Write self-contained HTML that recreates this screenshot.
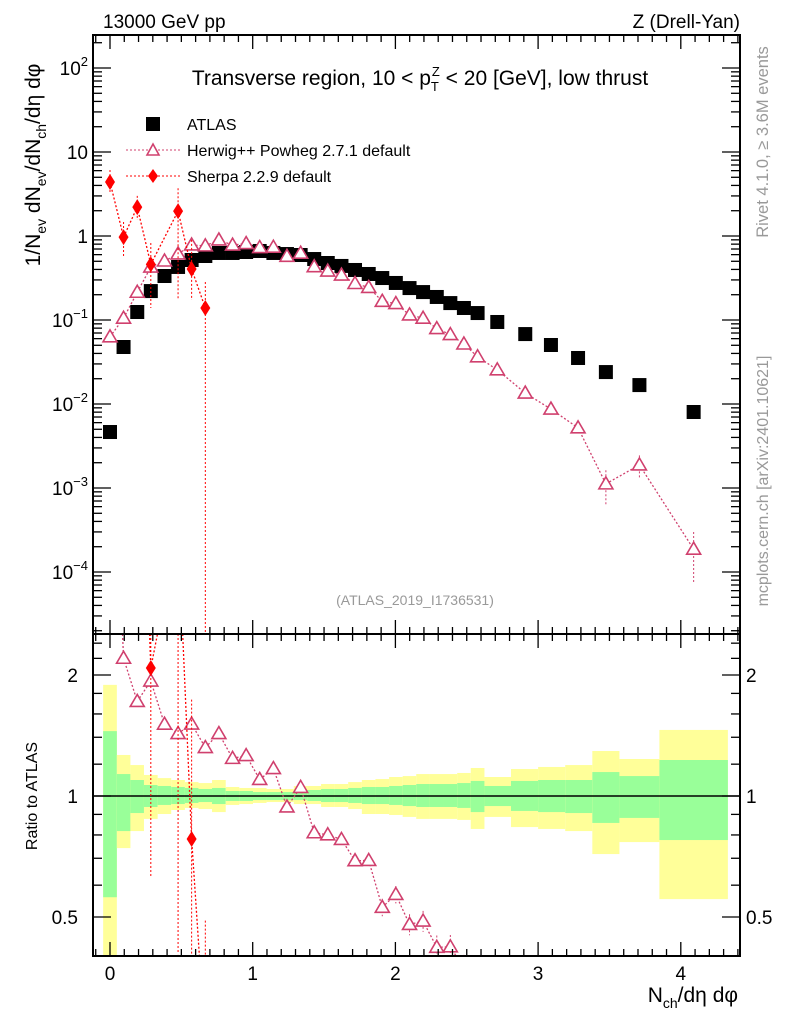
<!DOCTYPE html>
<html><head><meta charset="utf-8">
<style>
html,body{margin:0;padding:0;background:#fff;overflow:hidden;width:786px;height:1024px;}
svg{display:block;font-family:"Liberation Sans",sans-serif;}
</style></head>
<body>
<svg id="chart" width="786" height="1024" viewBox="0 0 786 1024" xmlns="http://www.w3.org/2000/svg">
<defs>
<clipPath id="clipMain"><rect x="93" y="35" width="647" height="599"/></clipPath>
<clipPath id="clipRatio"><rect x="93" y="634" width="647" height="322"/></clipPath>
</defs>
<text x="103" y="28" font-size="19">13000 GeV pp</text>
<text x="740" y="28" font-size="19" text-anchor="end">Z (Drell-Yan)</text>
<text transform="translate(40,165) rotate(-90)" font-size="21" text-anchor="middle">1/N<tspan font-size="14" dy="6">ev</tspan><tspan dy="-6"> dN</tspan><tspan font-size="14" dy="6">ev</tspan><tspan dy="-6">/dN</tspan><tspan font-size="14" dy="6">ch</tspan><tspan dy="-6">/dη dφ</tspan></text>
<text transform="translate(37,796) rotate(-90)" font-size="16" text-anchor="middle">Ratio to ATLAS</text>
<text x="738" y="1002" font-size="21" text-anchor="end">N<tspan font-size="14" dy="6">ch</tspan><tspan dy="-6">/dη dφ</tspan></text>
<text transform="translate(768,142) rotate(-90)" font-size="16.5" fill="#999" text-anchor="middle">Rivet 4.1.0, ≥ 3.6M events</text>
<text transform="translate(768,481) rotate(-90)" font-size="16" fill="#999" text-anchor="middle">mcplots.cern.ch [arXiv:2401.10621]</text>
<text x="415" y="605" font-size="14" fill="#999" text-anchor="middle">(ATLAS_2019_I1736531)</text>
<text x="420" y="85" font-size="21" text-anchor="middle">Transverse region, 10 &lt; p<tspan font-size="13" dy="6">T</tspan><tspan font-size="13" dx="-7" dy="-15">Z</tspan><tspan dy="9"> &lt; 20 [GeV], low thrust</tspan></text>
<g id="ratioBands" clip-path="url(#clipRatio)"></g>
<g id="marks"></g>
<g id="axes"></g>
<g id="legend">
<rect x="146" y="117" width="14" height="14" fill="#000"/>
<text x="187" y="130" font-size="16">ATLAS</text>
<line x1="126" y1="150" x2="182" y2="150" stroke="#d0406e" stroke-dasharray="2,2"/>
<path d="M153,144 L159,155 L147,155 Z" fill="#fff" stroke="#d0406e" stroke-width="1.6"/>
<text x="187" y="156" font-size="16">Herwig++ Powheg 2.7.1 default</text>
<line x1="126" y1="176" x2="182" y2="176" stroke="#f00" stroke-dasharray="2,2"/>
<path d="M153,169 L158,176 L153,183 L148,176 Z" fill="#f00"/>
<text x="187" y="182" font-size="16">Sherpa 2.2.9 default</text>
</g>
</svg>
<script>
const binEdges=[-0.048,0.048,0.143,0.238,0.334,0.429,0.525,0.62,0.715,0.811,0.906,1.002,1.097,1.192,1.288,1.383,1.479,1.574,1.669,1.765,1.86,1.956,2.051,2.146,2.242,2.337,2.433,2.528,2.624,2.81,3.0,3.19,3.38,3.57,3.85,4.33];
const xCenters=[0,0.095,0.191,0.286,0.382,0.477,0.572,0.668,0.763,0.859,0.954,1.049,1.145,1.24,1.336,1.431,1.526,1.622,1.717,1.813,1.908,2.003,2.099,2.194,2.29,2.385,2.48,2.576,2.714,2.91,3.09,3.28,3.475,3.71,4.09];
const atlasValues=[0.00464,0.0477,0.1245,0.221,0.334,0.428,0.518,0.578,0.628,0.628,0.645,0.663,0.628,0.61,0.594,0.532,0.477,0.44,0.394,0.353,0.316,0.276,0.24,0.215,0.188,0.159,0.139,0.121,0.0947,0.068,0.0504,0.0353,0.024,0.0168,0.00803];
const herwigValues=[0.063,0.105,0.214,0.427,0.504,0.612,0.782,0.763,0.898,0.779,0.813,0.729,0.735,0.573,0.624,0.431,0.382,0.343,0.272,0.244,0.167,0.157,0.115,0.105,0.079,0.067,0.0518,0.0365,0.0255,0.0135,0.0087,0.0052,0.00112,0.00188,0.000187];
const herwigRelErr=[0.03,0.03,0.03,0.03,0.03,0.03,0.03,0.03,0.03,0.03,0.03,0.03,0.03,0.03,0.03,0.03,0.03,0.03,0.03,0.03,0.05,0.05,0.06,0.06,0.07,0.07,0.08,0.08,0.1,0.1,0.12,0.15,0.45,0.3,0.6];
const sherpaX=[0,0.095,0.191,0.286,0.477,0.572,0.668];
const sherpaValues=[4.4,0.97,2.21,0.46,1.98,0.405,0.139];
const sherpaHigh=[6.1,1.47,3.0,0.825,3.7,0.9,0.283];
const sherpaLow=[3.25,0.547,1.55,0.139,0.173,0.173,0.000001];
const sherpaAtlasIdx=[0,1,2,3,5,6,7];
const bandYellowUp=[1.89,1.265,1.194,1.128,1.108,1.096,1.083,1.077,1.096,1.053,1.047,1.047,1.041,1.041,1.059,1.059,1.071,1.071,1.083,1.096,1.102,1.115,1.121,1.134,1.134,1.134,1.141,1.174,1.115,1.167,1.181,1.194,1.294,1.236,1.46];
const bandYellowLo=[0.3,0.742,0.818,0.877,0.902,0.923,0.934,0.928,0.912,0.950,0.955,0.961,0.966,0.966,0.955,0.955,0.939,0.939,0.928,0.902,0.902,0.897,0.887,0.877,0.877,0.877,0.872,0.828,0.887,0.837,0.828,0.818,0.717,0.768,0.554];
const bandGreenUp=[1.45,1.134,1.096,1.065,1.059,1.053,1.047,1.041,1.047,1.029,1.029,1.023,1.023,1.023,1.035,1.035,1.041,1.041,1.047,1.053,1.053,1.059,1.065,1.071,1.071,1.071,1.077,1.090,1.059,1.090,1.096,1.096,1.147,1.121,1.229];
const bandGreenLo=[0.56,0.818,0.907,0.939,0.95,0.955,0.961,0.966,0.955,0.972,0.972,0.977,0.977,0.977,0.977,0.972,0.966,0.966,0.961,0.955,0.955,0.950,0.944,0.939,0.939,0.939,0.934,0.912,0.944,0.918,0.912,0.907,0.857,0.882,0.777];
const xTicks=[0,1,2,3,4];
const mainTickExps=[-4,-3,-2,-1,0,1,2];
const mainTickLabels=["10","10","10","10","1","10","10"];
const mainTickSups=["\u22124","\u22123","\u22122","\u22121","","","2"];
const ratioTicks=[0.5,1,2];
const ratioTickLabels=["0.5","1","2"];

const NS="http://www.w3.org/2000/svg";
const L=93,R=740,MT=35,MB=634,RT=634,RB=956;
function cl(v,a,b){return Math.max(a,Math.min(b,v));}
function sx(x){return 110+x*142.7;}
function syU(v){return 236-Math.log10(v)*84;}
function srU(r){return 796-Math.log2(r)*121;}
function sy(v){return cl(syU(v),MT-20,MB+20);}
function sr(r){return cl(srU(r),RT-20,RB+20);}
function srb(r){return cl(srU(r),RT,RB);}
function mk(tag,attrs,parent){const e=document.createElementNS(NS,tag);for(const k in attrs)e.setAttribute(k,attrs[k]);parent.appendChild(e);return e;}
// clip polyline segments to [top,bottom] in y, returning path d
function clipPath(xs,ys,top,bot){
  let d='';
  for(let i=0;i<xs.length-1;i++){
    let x1=xs[i],y1=ys[i],x2=xs[i+1],y2=ys[i+1];
    if((y1<top&&y2<top)||(y1>bot&&y2>bot)) continue;
    const f=(yy)=>x1+(x2-x1)*(yy-y1)/(y2-y1);
    let ax=x1,ay=y1,bx=x2,by=y2;
    if(ay<top){ax=f(top);ay=top;} else if(ay>bot){ax=f(bot);ay=bot;}
    if(by<top){bx=f(top);by=top;} else if(by>bot){bx=f(bot);by=bot;}
    d+=`M${ax.toFixed(2)},${ay.toFixed(2)}L${bx.toFixed(2)},${by.toFixed(2)}`;
  }
  return d;
}
const bands=document.getElementById('ratioBands');
const marks=document.getElementById('marks');
const axes=document.getElementById('axes');

for(let i=0;i<xCenters.length;i++){
  const x0=sx(binEdges[i]),x1=sx(binEdges[i+1]);
  const y=mk('rect',{x:x0,y:srb(bandYellowUp[i]),width:x1-x0,height:srb(bandYellowLo[i])-srb(bandYellowUp[i]),fill:'#ffff99'},bands);
  
  
  const g=mk('rect',{x:x0,y:srb(bandGreenUp[i]),width:x1-x0,height:srb(bandGreenLo[i])-srb(bandGreenUp[i]),fill:'#99ff99'},bands);
  
  
}
const one=mk('line',{x1:L,x2:R,y1:sr(1),y2:sr(1),stroke:'#000','stroke-width':1.5},bands);



const gMain=mk('g',{'clip-path':'url(#clipMain)'},marks);


const gRat=mk('g',{'clip-path':'url(#clipRatio)'},marks);



const HC='#d0406e';
function tri(parent,cx,cy,name){
  const p=mk('path',{d:`M${cx},${cy-7} L${cx+7},${cy+5} L${cx-7},${cy+5} Z`,fill:'#fff',stroke:HC,'stroke-width':1.6},parent);
  
  
}
function dia(parent,cx,cy,name){
  const p=mk('path',{d:`M${cx},${cy-8} L${cx+5},${cy} L${cx},${cy+8} L${cx-5},${cy} Z`,fill:'#f00'},parent);
  
  
}
const hl=mk('path',{d:clipPath(xCenters.map(sx),herwigValues.map(syU),MT,MB),fill:'none',stroke:HC,'stroke-dasharray':'2,2','stroke-width':1.3},gMain);


xCenters.forEach((x,i)=>{
  const v=herwigValues[i],e=herwigRelErr[i];
  const eb=mk('line',{x1:sx(x),x2:sx(x),y1:sy(v*(1+e)),y2:sy(Math.max(v*(1-e),1e-7)),stroke:HC,'stroke-dasharray':'2,2'},gMain);
  
  
});
xCenters.forEach((x,i)=>{
  const r=mk('rect',{x:sx(x)-7,y:sy(atlasValues[i])-7,width:14,height:14,fill:'#000'},gMain);
  
  
});
xCenters.forEach((x,i)=>tri(gMain,sx(x),sy(herwigValues[i]),'herwig-point'));
const sl=mk('path',{d:clipPath(sherpaX.map(sx),sherpaValues.map(syU),MT,MB),fill:'none',stroke:'#f00','stroke-dasharray':'2,2','stroke-width':1.3},gMain);


sherpaX.forEach((x,i)=>{
  const eb=mk('line',{x1:sx(x),x2:sx(x),y1:cl(syU(sherpaHigh[i]),MT,MB),y2:cl(syU(sherpaLow[i]),MT,MB),stroke:'#f00','stroke-dasharray':'2,2'},gMain);
  
  
  dia(gMain,sx(x),sy(sherpaValues[i]),'sherpa-point');
});
const hr=mk('path',{d:clipPath(xCenters.map(sx),xCenters.map((x,i)=>srU(herwigValues[i]/atlasValues[i])),RT,RB),fill:'none',stroke:HC,'stroke-dasharray':'2,2','stroke-width':1.3},gRat);


xCenters.forEach((x,i)=>{
  const r=herwigValues[i]/atlasValues[i],e=herwigRelErr[i];
  const eb=mk('line',{x1:sx(x),x2:sx(x),y1:srb(r*(1+e)),y2:srb(r*(1-e)),stroke:HC,'stroke-dasharray':'2,2'},gRat);
  
  
  tri(gRat,sx(x),sr(r),'herwig-ratio-point');
});
const sr2=mk('path',{d:clipPath(sherpaX.map(sx),sherpaX.map((x,i)=>srU(sherpaValues[i]/atlasValues[sherpaAtlasIdx[i]])),RT,RB),fill:'none',stroke:'#f00','stroke-dasharray':'2,2','stroke-width':1.3},gRat);


sherpaX.forEach((x,i)=>{
  const a=atlasValues[sherpaAtlasIdx[i]];
  const eb=mk('line',{x1:sx(x),x2:sx(x),y1:srb(sherpaHigh[i]/a),y2:srb(sherpaLow[i]/a),stroke:'#f00','stroke-dasharray':'2,2'},gRat);
  
  
  dia(gRat,sx(x),sr(sherpaValues[i]/a),'sherpa-ratio-point');
});

[[MT,MB,'main-frame'],[RT,RB,'ratio-frame']].forEach(f=>{
  const r=mk('rect',{x:L,y:f[0],width:R-L,height:f[1]-f[0],fill:'none',stroke:'#000','stroke-width':2},axes);
  
  
});
function tk(x1,y1,x2,y2){const t=mk('line',{x1,y1,x2,y2,stroke:'#000','stroke-width':1.3},axes);}
for(let k=-1;k<=44;k++){
  const x=k/10; const px=sx(x); if(px<L||px>R) continue;
  const len=(k%10===0)?14:7;
  tk(px,MT,px,MT+len);tk(px,MB,px,MB-len);tk(px,RT,px,RT+len);tk(px,RB,px,RB-len);
}
xTicks.forEach(v=>{
  const t=mk('text',{x:sx(v),y:980,'font-size':19,'text-anchor':'middle'},axes);
  t.textContent=String(v);
  
  
});
for(let e=-5;e<=2;e++){
  for(let m=1;m<=9;m++){
    const py=syU(m*Math.pow(10,e)); if(py<MT||py>MB) continue;
    const len=m===1?18:9;
    tk(L,py,L+len,py);tk(R,py,R-len,py);
  }
}
mainTickExps.forEach((e,i)=>{
  const t=mk('text',{x:88,y:sy(Math.pow(10,e))+7,'font-size':19,'text-anchor':'end'},axes);
  
  
  t.appendChild(document.createTextNode(mainTickLabels[i]));
  if(mainTickSups[i]){
    const s=document.createElementNS(NS,'tspan');s.setAttribute('font-size','13');s.setAttribute('dy','-9');s.textContent=mainTickSups[i];t.appendChild(s);
  }
});
[0.4,0.5,0.6,0.7,0.8,0.9,1,1.2,1.4,1.6,1.8,2,2.2,2.4].forEach(v=>{
  const py=srU(v); if(py<RT||py>RB) return;
  const len=(v===0.5||v===1||v===2)?18:9;
  tk(L,py,L+len,py);tk(R,py,R-len,py);
});
ratioTicks.forEach((v,i)=>{
  const t=mk('text',{x:78,y:sr(v)+7,'font-size':19,'text-anchor':'end'},axes);
  t.textContent=ratioTickLabels[i];
  
  
  const t2=mk('text',{x:746,y:sr(v)+7,'font-size':19,'text-anchor':'start'},axes);
  t2.textContent=ratioTickLabels[i];
  
  
});
</script>
</body></html>
